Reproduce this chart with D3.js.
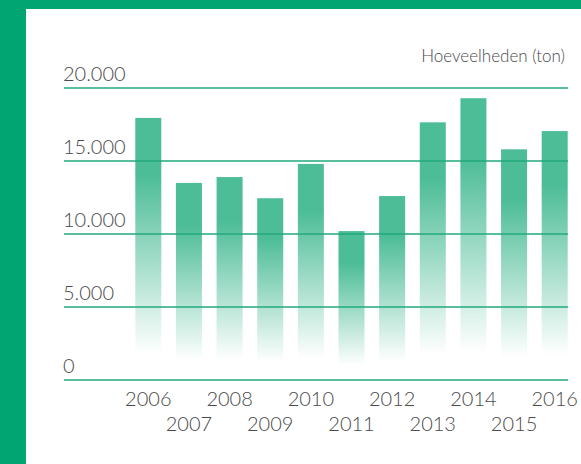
<!DOCTYPE html>
<html>
<head>
<meta charset="utf-8">
<script src="https://cdn.jsdelivr.net/npm/d3@7"></script>
<style>
  body { margin: 0; background: #00a572; }
  text { font-family: "Lato", "DejaVu Sans", sans-serif; fill: #4a4a4a; }
</style>
</head>
<body>
<div id="chart"></div>
<script>
// data
var years = ["2006", "2007", "2008", "2009", "2010", "2011", "2012", "2013", "2014", "2015", "2016"]
var tonnes = [17950, 13500, 13900, 12450, 14800, 10200, 12600, 17650, 19300, 15800, 17050]
var tickValues = [0, 5000, 10000, 15000, 20000]
var tickLabels = ["0", "5.000", "10.000", "15.000", "20.000"]
var unitLabel = "Hoeveelheden (ton)"

var width = 581
var height = 464

var svg = d3.select("#chart")
    .append("svg")
    .attr("width", width)
    .attr("height", height)

// green frame with white panel
svg.append("rect").attr("width", width).attr("height", height).attr("fill", "#00a572")
svg.append("rect").attr("x", 26).attr("y", 9).attr("width", width - 26).attr("height", height - 9).attr("fill", "#ffffff")

var x = d3.scaleBand()
    .domain(years)
    .range([135.3, 567.7])
    .paddingInner(0.36)
    .paddingOuter(0)

var y = d3.scaleLinear()
    .domain([0, 20000])
    .range([380, 88])

// fading gradient for the bars
var grad = svg.append("defs").append("linearGradient")
    .attr("id", "fade")
    .attr("x1", 0).attr("y1", 0).attr("x2", 0).attr("y2", 1)
grad.append("stop").attr("offset", 0).attr("stop-color", "#4dbd98").attr("stop-opacity", 1)
grad.append("stop").attr("offset", 0.22).attr("stop-color", "#4dbd98").attr("stop-opacity", 1)
grad.append("stop").attr("offset", 0.9).attr("stop-color", "#4dbd98").attr("stop-opacity", 0)
grad.append("stop").attr("offset", 1).attr("stop-color", "#4dbd98").attr("stop-opacity", 0)

// bars
svg.selectAll("rect.bar")
    .data(years)
    .enter()
    .append("rect")
    .attr("class", "bar")
    .attr("x", function (d) { return x(d) })
    .attr("width", x.bandwidth())
    .attr("y", function (d, i) { return y(tonnes[i]) })
    .attr("height", function (d, i) { return y(0) - y(tonnes[i]) })
    .attr("fill", "url(#fade)")

// gridlines over the bars
svg.selectAll("line.grid")
    .data(tickValues)
    .enter()
    .append("line")
    .attr("class", "grid")
    .attr("x1", 64)
    .attr("x2", 568)
    .attr("y1", function (d) { return y(d) })
    .attr("y2", function (d) { return y(d) })
    .attr("stroke", "#22aa7a")
    .attr("stroke-width", 1.6)

// tick labels
svg.selectAll("text.tick")
    .data(tickValues)
    .enter()
    .append("text")
    .attr("class", "tick")
    .attr("x", 63)
    .attr("y", function (d) { return y(d) - 7 })
    .style("font-size", "20px")
    .style("font-weight", 300)
    .text(function (d, i) { return tickLabels[i] })

// year labels, staggered in two rows
svg.selectAll("text.year")
    .data(years)
    .enter()
    .append("text")
    .attr("class", "year")
    .attr("x", function (d) { return x(d) + x.bandwidth() / 2 })
    .attr("y", function (d, i) { return i % 2 === 0 ? 406 : 431 })
    .attr("text-anchor", "middle")
    .style("font-size", "20px")
    .style("font-weight", 300)
    .text(function (d) { return d })

// unit label
svg.append("text")
    .attr("x", 565)
    .attr("y", 62)
    .attr("text-anchor", "end")
    .style("font-size", "17px")
    .style("font-weight", 300)
    .text(unitLabel)
</script>
</body>
</html>
